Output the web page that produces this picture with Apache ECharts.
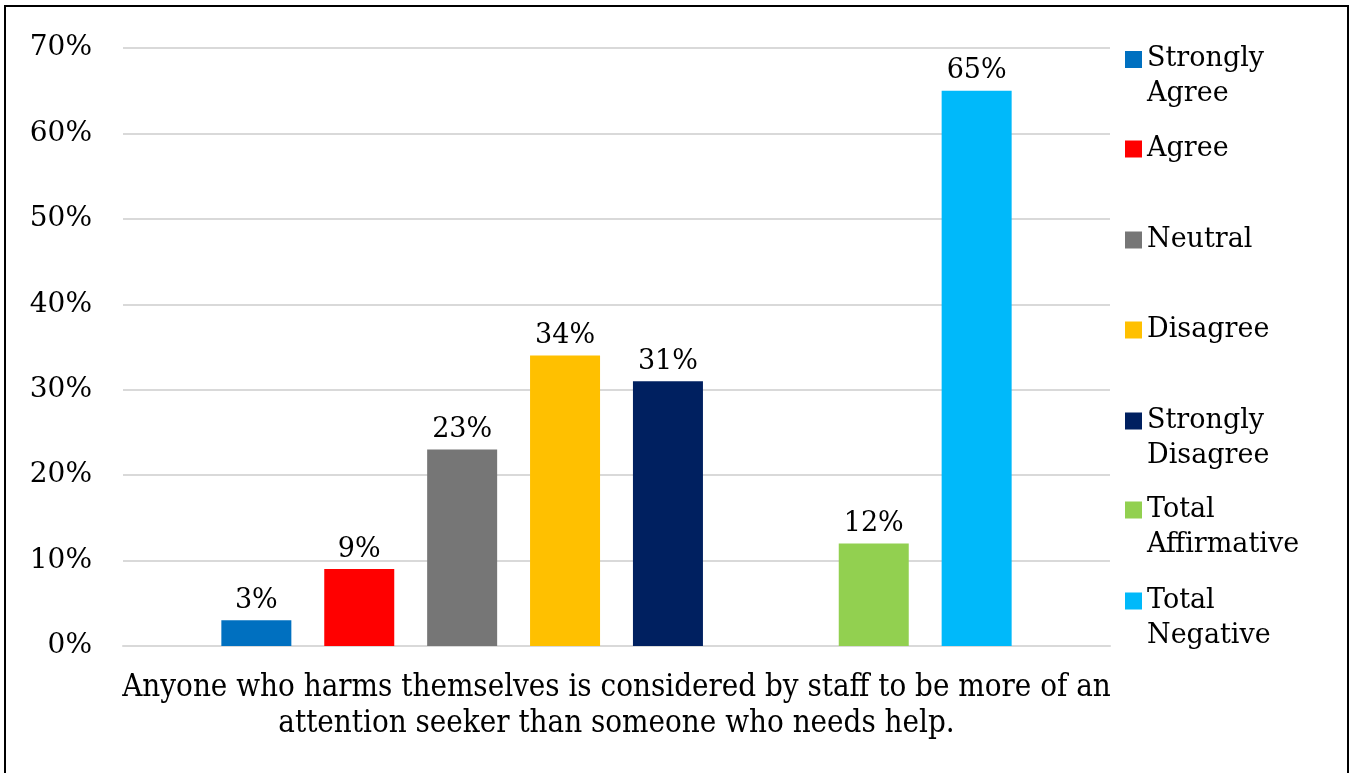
<!DOCTYPE html>
<html>
<head>
<meta charset="utf-8">
<script src="https://cdn.jsdelivr.net/npm/echarts@6/dist/echarts.min.js"></script>
<style>
html,body{margin:0;padding:0;background:#fff;overflow:hidden;}
#chart{position:absolute;left:0;top:0;width:1351px;height:773px;}
#frame{position:absolute;left:4px;top:5px;width:1345px;height:820px;border:2px solid #000;box-sizing:border-box;pointer-events:none;}
</style>
</head>
<body>
<div id="chart"></div>
<div id="frame"></div>
<script>
// ---- data ----
const categories = ["Anyone who harms themselves is considered by staff to be more of an\nattention seeker than someone who needs help."];
const seriesNames = ["Strongly Agree", "Agree", "Neutral", "Disagree", "Strongly Disagree", "", "Total Affirmative", "Total Negative"];
const seriesValues = [3, 9, 23, 34, 31, null, 12, 65];
const seriesColors = ["#0070C0", "#FF0000", "#767676", "#FFC000", "#002060", "#ffffff", "#92D050", "#00B9FA"];
const yTicks = [0, 10, 20, 30, 40, 50, 60, 70];
// legend layout: [name, top, twoLine]
const legendItems = [
  ["Strongly Agree", 41.5, true],
  ["Agree", 131.5, false],
  ["Neutral", 222.5, false],
  ["Disagree", 312.5, false],
  ["Strongly Disagree", 403, true],
  ["Total Affirmative", 492, true],
  ["Total Negative", 583, true]
];

const FONT = "DejaVu Serif";
const chart = echarts.init(document.getElementById('chart'), null, {renderer: 'canvas'});

const series = seriesNames.map((n, i) => ({
  name: n === "" ? "gap" : n,
  type: 'bar',
  data: [seriesValues[i]],
  barWidth: 70,
  barGap: '47%',
  itemStyle: {color: seriesColors[i]},
  label: {
    show: n !== "",
    position: 'top',
    distance: 6,
    formatter: '{c}%',
    fontFamily: FONT,
    fontSize: 27,
    color: '#000'
  },
  emphasis: {disabled: true},
  animation: false
}));

const legends = legendItems.map(([name, top, two]) => ({
  data: [name],
  orient: 'vertical',
  left: 1125,
  top: top,
  padding: 0,
  itemWidth: 17,
  itemHeight: two ? 70 : 17,
  icon: two ? 'path://M0 9.5H17V26.5H0Z M0 0L0.01 0 M0 70L0.01 70' : 'rect',
  selectedMode: false,
  formatter: two ? (n => n.replace(' ', '\n')) : '{name}',
  textStyle: {fontFamily: FONT, fontSize: 27, lineHeight: 35, color: '#000'}
}));

chart.setOption({
  animation: false,
  textStyle: {fontFamily: FONT},
  grid: {left: 123, right: 241, top: 48, bottom: 127, containLabel: false},
  legend: legends,
  xAxis: {
    type: 'category',
    data: categories,
    axisLine: {show: true, lineStyle: {color: '#d9d9d9', width: 2}},
    axisTick: {show: false},
    axisLabel: {
      interval: 0,
      margin: 24,
      fontFamily: 'DejaVu Serif Condensed, DejaVu Serif',
      fontSize: 31,
      lineHeight: 36,
      color: '#000'
    }
  },
  yAxis: {
    type: 'value',
    min: yTicks[0],
    max: yTicks[yTicks.length - 1],
    interval: 10,
    axisLine: {show: false},
    axisTick: {show: false},
    splitLine: {lineStyle: {color: '#d9d9d9', width: 2}},
    axisLabel: {
      formatter: '{value}%',
      margin: 31,
      fontFamily: FONT,
      fontSize: 28,
      color: '#000'
    }
  },
  series: series
});
</script>
</body>
</html>
